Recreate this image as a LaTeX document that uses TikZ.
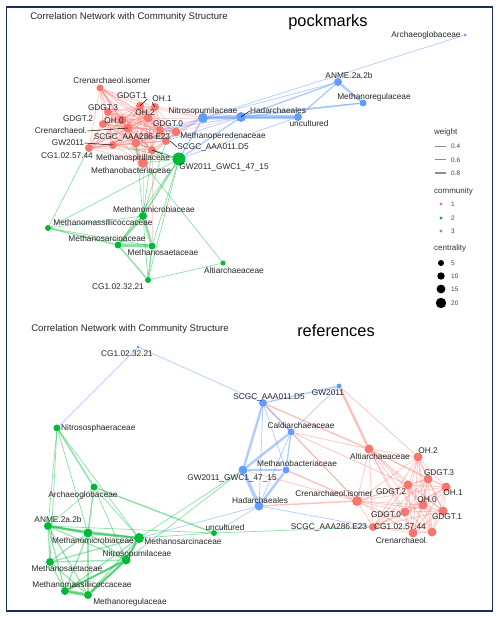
\documentclass[tikz,border=0pt]{standalone}
\usepackage{fontspec}
\setmainfont{Liberation Sans}
\pgfdeclarelayer{bgfill}
\pgfdeclarelayer{edges}
\pgfsetlayers{bgfill,edges,main}
\definecolor{cR}{HTML}{F8766D}
\definecolor{cG}{HTML}{00BA38}
\definecolor{cB}{HTML}{619CFF}
\definecolor{navy}{HTML}{1F2D5A}
\begin{document}
\begin{tikzpicture}[x=1pt,y=-1pt,
  nR/.style={circle,fill=cR,inner sep=0pt},
  nG/.style={circle,fill=cG,inner sep=0pt},
  nB/.style={circle,fill=cB,inner sep=0pt},
  eR/.style={draw=cR,draw opacity=0.45},
  eG/.style={draw=cG,draw opacity=0.45},
  eB/.style={draw=cB,draw opacity=0.5},
  w1/.style={line width=0.7pt},
  w2/.style={line width=1.4pt},
  w3/.style={line width=2.4pt},
  w4/.style={line width=3.4pt},
  mesh/.style={line width=0.9pt,draw opacity=0.35},
  lbl/.style={font=\fontsize{8.3}{9}\selectfont,inner sep=0pt,text=black!85},
  ttl/.style={font=\fontsize{9.6}{11}\selectfont,inner sep=0pt,text=black!85},
  big/.style={font=\fontsize{16.4}{18}\selectfont,inner sep=0pt},
  lgh/.style={font=\fontsize{8}{9}\selectfont,inner sep=0pt,text=black!80,anchor=west},
  lgn/.style={font=\fontsize{6.5}{7}\selectfont,inner sep=0pt,text=black!75,anchor=west},
  leader/.style={draw=black,line width=0.5pt},
  lgline/.style={draw=black!45}]
\useasboundingbox (0,0) rectangle (500,617);
\begin{pgfonlayer}{bgfill}
\fill[white] (0,0) rectangle (500,617);
\end{pgfonlayer}
\draw[navy,line width=1.6pt] (6.5,7) rectangle (492.5,611);

% ---------------- TOP PANEL NODES ----------------
\foreach \n/\x/\y/\r in {t_cri/100/88/3.5,t_g1/140/106/4,t_oh1/155/107/4,t_oh2/148/118/4.5,
  t_g3/108/112/4,t_g2/103/124/4,t_oh0/122/120/4.5,t_cr/128/128/4.5,t_g0/176/132/4.5,
  t_sc286/136/143/4.5,t_gw/113/145/4,t_cg57/89/148/4,t_sc011/166/141/4,t_mper/160/130/4,
  t_mspi/152/150/4,t_mbac/143/163/5}
  \node[nR,minimum size=\r*2pt] (\n) at (\x,\y) {};
\foreach \n/\x/\y/\r in {t_nit/203/118/5,t_had/241/117/5,t_unc/298/117/4,t_anme/338/82/4,
  t_mreg/363/103/3.5,t_arch/465/35/1.5}
  \node[nB,minimum size=\r*2pt] (\n) at (\x,\y) {};
\foreach \n/\x/\y/\r in {t_gwc/179/159/6.5,t_mmic/143/216/4,t_mmas/48/228/3,t_msar/118/245/3.5,
  t_msae/152/246/3.5,t_cg32/148/280/3,t_alti/223/263/2.5}
  \node[nG,minimum size=\r*2pt] (\n) at (\x,\y) {};

% ---------------- BOTTOM PANEL NODES ----------------
\foreach \n/\x/\y/\r in {b_cri/357/501/5,b_alti/369/449/4.5,b_oh2/418/457/4.5,b_g3/428/479/4.5,
  b_g2/408/485/4.5,b_oh1/446/487/4.5,b_oh0/423/505/4.5,b_g0/405/512/4.5,b_g1/443/511/4.5,
  b_cg57/432/532/4.5,b_cr/413/533/4.5,b_sc286/373/527/4}
  \node[nR,minimum size=\r*2pt] (\n) at (\x,\y) {};
\foreach \n/\x/\y/\r in {b_cg32/138/347/1.5,b_sc011/263/403/4,b_gw/339/386/2.5,b_cal/291/432/3.5,
  b_mbac/286/470/3.5,b_gwc/243/470/4.5,b_had/259/506/4.5}
  \node[nB,minimum size=\r*2pt] (\n) at (\x,\y) {};
\foreach \n/\x/\y/\r in {b_nitso/57/428/3.5,b_arch/94/487/3.5,b_anme/48/526/4,b_mmic/88/533/4.5,
  b_msar/139/538/5,b_nitp/126/560/4.5,b_msae/50/562/4,b_mmas/65/591/4,b_mreg/88/595/4,b_unc/214/533/3}
  \node[nG,minimum size=\r*2pt] (\n) at (\x,\y) {};

% ---------------- EDGES ----------------
\begin{pgfonlayer}{edges}
\def\topred{t_cri,t_g1,t_oh1,t_oh2,t_g3,t_g2,t_oh0,t_cr,t_g0,t_sc286,t_gw,t_cg57,t_sc011,t_mper,t_mspi,t_mbac}
\foreach \a [count=\i] in \topred {
  \foreach \b [count=\j] in \topred {
    \ifnum\j>\i \draw[eR,mesh] (\a) -- (\b); \fi
  }
}
\def\botred{b_oh2,b_g3,b_g2,b_oh1,b_oh0,b_g0,b_g1,b_cg57,b_cr,b_sc286,b_alti,b_cri}
\foreach \a [count=\i] in \botred {
  \foreach \b [count=\j] in \botred {
    \ifnum\j>\i \draw[eR,mesh] (\a) -- (\b); \fi
  }
}
% top blue
\foreach \a/\b in {t_nit/t_had,t_had/t_unc} \draw[eB,w4] (\a) -- (\b);
\foreach \a/\b in {t_anme/t_mreg} \draw[eB,w3] (\a) -- (\b);
\foreach \a/\b in {t_nit/t_unc,t_anme/t_had,t_anme/t_unc,t_mreg/t_had,t_nit/t_gwc,t_had/t_gwc}
  \draw[eB,w2] (\a) -- (\b);
\foreach \a/\b in {t_arch/t_nit,t_anme/t_nit,t_mreg/t_nit,t_unc/t_gwc,t_sc011/t_nit,t_mper/t_nit,
  t_sc011/t_had,t_mper/t_had,t_nit/t_sc286}
  \draw[eB,w1] (\a) -- (\b);
% top red to blue
\foreach \a/\b in {t_g0/t_nit} \draw[eR,w2] (\a) -- (\b);
\foreach \a/\b in {t_oh1/t_nit,t_oh2/t_nit,t_g1/t_nit,t_g0/t_had,t_oh1/t_had,t_mbac/t_mmic,t_mspi/t_msae}
  \draw[eR,w1,draw opacity=0.3] (\a) -- (\b);
% top green
\foreach \a/\b in {t_msar/t_msae} \draw[eG,w4] (\a) -- (\b);
\foreach \a/\b in {t_mmic/t_msar,t_mmic/t_msae} \draw[eG,w3] (\a) -- (\b);
\foreach \a/\b in {t_gwc/t_mmic,t_mmas/t_msar,t_cg32/t_msar,t_cg32/t_msae} \draw[eG,w2] (\a) -- (\b);
\foreach \a/\b in {t_gwc/t_msar,t_gwc/t_msae,t_gwc/t_cg32,t_mbac/t_alti,t_mmas/t_mmic,t_mmas/t_msae,
  t_mmas/t_cg57,t_cg32/t_mmic,t_cg32/t_alti,t_mmic/t_mspi,t_mmic/t_sc286,t_mmic/t_sc011,
  t_gwc/t_sc286,t_gwc/t_gw,t_gwc/t_mspi,t_gwc/t_mbac,t_gwc/t_mmas}
  \draw[eG,w1] (\a) -- (\b);
% bottom blue
\foreach \a/\b in {b_gwc/b_had} \draw[eB,w4] (\a) -- (\b);
\foreach \a/\b in {b_sc011/b_gwc,b_cal/b_gwc,b_gwc/b_mbac,b_mbac/b_had} \draw[eB,w3] (\a) -- (\b);
\foreach \a/\b in {b_sc011/b_gw,b_sc011/b_cal,b_cal/b_mbac} \draw[eB,w2] (\a) -- (\b);
\foreach \a/\b in {b_cg32/b_nitso,b_cg32/b_sc011,b_sc011/b_mbac,b_sc011/b_had,b_gw/b_cal,b_cal/b_had,
  b_had/b_sc286,b_had/b_unc,b_msar/b_had}
  \draw[eB,w1] (\a) -- (\b);
% bottom red
\foreach \a/\b in {b_gw/b_alti} \draw[eR,w3] (\a) -- (\b);
\foreach \a/\b in {b_sc011/b_alti,b_mbac/b_cri,b_had/b_cri} \draw[eR,w2] (\a) -- (\b);
\foreach \a/\b in {b_gw/b_oh2,b_sc011/b_cri,b_cal/b_alti,b_cal/b_cri,b_cal/b_g2,b_gwc/b_cri}
  \draw[eR,w1] (\a) -- (\b);
% bottom green
\foreach \a/\b in {b_mmas/b_mreg} \draw[eG,w4] (\a) -- (\b);
\foreach \a/\b in {b_nitp/b_mreg,b_nitp/b_mmas,b_msar/b_nitp,b_anme/b_mmic,b_mmic/b_msar}
  \draw[eG,w3] (\a) -- (\b);
\def\botgreen{b_anme,b_mmic,b_msar,b_nitp,b_msae,b_mmas,b_mreg}
\foreach \a [count=\i] in \botgreen {
  \foreach \b [count=\j] in \botgreen {
    \ifnum\j>\i \draw[eG,line width=1.3pt,draw opacity=0.38] (\a) -- (\b); \fi
  }
}
\foreach \a/\b in {b_arch/b_mmic,b_arch/b_unc,b_nitso/b_arch} \draw[eG,w2] (\a) -- (\b);
\foreach \a/\b in {b_nitso/b_anme,b_nitso/b_mmic,b_nitso/b_msae,b_nitso/b_msar,b_arch/b_anme,
  b_arch/b_nitp,b_arch/b_msar,b_unc/b_msar,b_unc/b_anme,b_gwc/b_msar,b_gwc/b_nitp,b_unc/b_sc286}
  \draw[eG,w1] (\a) -- (\b);
\end{pgfonlayer}

% ---------------- TITLES ----------------
\node[ttl] (ttl1) at (129,17) {Correlation Network with Community Structure};
\node[big] (pk) at (328,22) {pockmarks};
\node[ttl] (ttl2) at (130,329) {Correlation Network with Community Structure};
\node[big] (rf) at (336,331) {references};

% ---------------- TOP LABELS ----------------
\foreach \n/\x/\y/\t in {
  lt_cri/112/81/Crenarchaeol.isomer, lt_g1/132/96/GDGT.1, lt_oh1/162/99/OH.1, lt_oh2/145/113/OH.2,
  lt_g3/103/108/GDGT.3, lt_g2/78/119/GDGT.2, lt_oh0/114/121/OH.0, lt_g0/168/124/GDGT.0,
  lt_cr/61/131/Crenarchaeol., lt_sc286/132/137/SCGC\_AAA286.E23, lt_gw/68/143/GW2011,
  lt_cg57/67/156/CG1.02.57.44, lt_sc011/213/147/SCGC\_AAA011.D5, lt_mper/223/136/Methanoperedenaceae,
  lt_mspi/133/158/Methanospirillaceae, lt_mbac/131/171/Methanobacteriaceae,
  lt_nit/203/111/Nitrosopumilaceae, lt_had/278/111/Hadarchaeales, lt_unc/309/124/uncultured,
  lt_gwc/224/167/GW2011\_GWC1\_47\_15, lt_anme/349/76/ANME.2a.2b, lt_mreg/374/97/Methanoregulaceae,
  lt_arch/426/35/Archaeoglobaceae, lt_mmic/154/210/Methanomicrobiaceae,
  lt_mmas/103/223/Methanomassiliicoccaceae, lt_msar/107/239/Methanosarcinaceae,
  lt_msae/163/253/Methanosaetaceae, lt_cg32/118/287/CG1.02.32.21, lt_alti/234/271/Altiarchaeaceae}
  \node[lbl] (\n) at (\x,\y) {\t};
\draw[leader] (lt_cr.east) -- (t_cr.center);
\draw[leader] (lt_gw.east) -- (t_gw.center);
\draw[leader] (lt_g1.south east) -- (t_g1.center);
\draw[leader] (lt_oh1.south west) -- (t_oh1.center);
\draw[leader] (lt_sc011.west) -- (t_sc011.east);
\draw[leader] (lt_mspi.north east) ++(-8,0) coordinate (msp1) -- (t_mspi.center);
\draw[leader] (lt_had.west) -- (t_had.center);

% ---------------- BOTTOM LABELS ----------------
\foreach \n/\x/\y/\t in {
  lb_cg32/127/354/CG1.02.32.21, lb_sc011/269/397/SCGC\_AAA011.D5, lb_gw/328/393/GW2011,
  lb_cal/301/426/Caldiarchaeaceae, lb_mbac/297/464/Methanobacteriaceae,
  lb_gwc/232/478/GW2011\_GWC1\_47\_15, lb_had/260/501/Hadarchaeales, lb_unc/225/528/uncultured,
  lb_sc286/329/527/SCGC\_AAA286.E23, lb_cri/334/494/Crenarchaeol.isomer,
  lb_alti/380/457/Altiarchaeaceae, lb_oh2/428/451/OH.2, lb_g3/439/473/GDGT.3, lb_g2/391/492/GDGT.2,
  lb_oh1/453/493/OH.1, lb_oh0/427/500/OH.0, lb_g0/386/515/GDGT.0, lb_g1/447/517/GDGT.1,
  lb_cg57/400/527/CG1.02.57.44, lb_cr/402/541/Crenarchaeol., lb_arch/83/495/Archaeoglobaceae,
  lb_anme/58/520/ANME.2a.2b, lb_mmic/93/541/Methanomicrobiaceae, lb_msar/183/542/Methanosarcinaceae,
  lb_nitp/137/554/Nitrosopumilaceae, lb_msae/67/569/Methanosaetaceae,
  lb_mmas/82/585/Methanomassiliicoccaceae, lb_mreg/130/602/Methanoregulaceae}
  \node[lbl] (\n) at (\x,\y) {\t};
\node[lbl,anchor=west] (lb_nitso) at (61,428) {Nitrososphaeraceae};

% ---------------- LEGEND ----------------
\node[lgh] (lg_w) at (434,132) {weight};
\coordinate (lga1) at (435,146); \coordinate (lgb1) at (446,146);
\coordinate (lga2) at (435,160); \coordinate (lgb2) at (446,160);
\coordinate (lga3) at (435,173); \coordinate (lgb3) at (446,173);
\draw[lgline,line width=0.5pt] (lga1) -- (lgb1);
\draw[lgline,line width=1pt] (lga2) -- (lgb2);
\draw[lgline,line width=1.8pt] (lga3) -- (lgb3);
\node[lgn] (lg_n1) at (451,146) {0.4};
\node[lgn] (lg_n2) at (451,160) {0.6};
\node[lgn] (lg_n3) at (451,173) {0.8};
\node[lgh] (lg_c) at (434,191) {community};
\node[nR,minimum size=3.2pt] (lg_d1) at (441,204) {};
\node[nG,minimum size=3.2pt] (lg_d2) at (441,218) {};
\node[nB,minimum size=3.2pt] (lg_d3) at (441,231) {};
\node[lgn] (lg_c1) at (451,204) {1};
\node[lgn] (lg_c2) at (451,218) {2};
\node[lgn] (lg_c3) at (451,231) {3};
\node[lgh] (lg_ce) at (434,248) {centrality};
\node[circle,fill=black,inner sep=0pt,minimum size=6pt] (lg_s1) at (441,263) {};
\node[circle,fill=black,inner sep=0pt,minimum size=7.4pt] (lg_s2) at (441,276) {};
\node[circle,fill=black,inner sep=0pt,minimum size=8.8pt] (lg_s3) at (441,289) {};
\node[circle,fill=black,inner sep=0pt,minimum size=10.4pt] (lg_s4) at (441,303) {};
\node[lgn] (lg_e1) at (451,263) {5};
\node[lgn] (lg_e2) at (451,276) {10};
\node[lgn] (lg_e3) at (451,289) {15};
\node[lgn] (lg_e4) at (451,303) {20};
\end{tikzpicture}
\end{document}
